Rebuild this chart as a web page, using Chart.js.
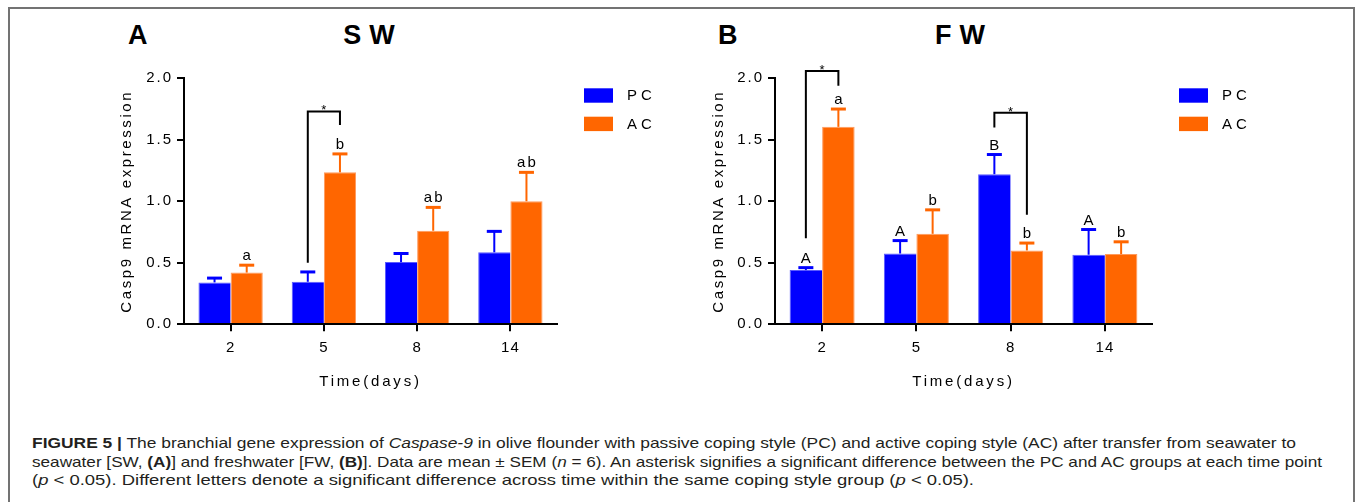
<!DOCTYPE html>
<html>
<head>
<meta charset="utf-8">
<script src="https://cdn.jsdelivr.net/npm/chart.js@4.4.1/dist/chart.umd.min.js"></script>
<style>
  html, body { margin: 0; padding: 0; background: #fff; }
  body { width: 1355px; height: 502px; position: relative; overflow: hidden;
         font-family: 'Liberation Sans', Arial, sans-serif; color: #000; }
  .frame { position: absolute; left: 8px; top: 7px; width: 1343px; height: 540px; border: 2px solid #737373; }
  canvas { position: absolute; top: 0; }
  .panel-letter { position: absolute; top: 22px; font-weight: bold; font-size: 27px; line-height: 27px; }
  .panel-title { position: absolute; top: 22px; width: 200px; text-align: center; font-weight: bold;
                 font-size: 27px; line-height: 27px; letter-spacing: 8px; }
  .caption { position: absolute; left: 32px; font-size: 15px; line-height: 18px; white-space: nowrap;
             transform-origin: 0 50%; color: #231f20; }
</style>
</head>
<body>
<div class="frame"></div>

<div class="panel-letter" style="left:128px">A</div>
<div class="panel-title" style="left:273px">SW</div>
<div class="panel-letter" style="left:718px">B</div>
<div class="panel-title" style="left:864px">FW</div>

<canvas id="swChart" width="560" height="400" style="left:100px"></canvas>
<canvas id="fwChart" width="560" height="400" style="left:690px"></canvas>

<div class="caption" style="top:434px" data-w="1264"><b>FIGURE 5 |</b> The branchial gene expression of <i>Caspase-9</i> in olive flounder with passive coping style (PC) and active coping style (AC) after transfer from seawater to</div>
<div class="caption" style="top:452.5px" data-w="1290">seawater [SW, <b>(A)</b>] and freshwater [FW, <b>(B)</b>]. Data are mean ± SEM (<i>n</i> = 6). An asterisk signifies a significant difference between the PC and AC groups at each time point</div>
<div class="caption" style="top:471px" data-w="942">(<i>p</i> &lt; 0.05). Different letters denote a significant difference across time within the same coping style group (<i>p</i> &lt; 0.05).</div>

<script>
// sampling days and y axis ticks
const days = ['2', '5', '8', '14'];
const yTickValues = [0, 0.5, 1.0, 1.5, 2.0];

// seawater (SW): means, SEM and letter groups
const swPC = [0.34, 0.345, 0.505, 0.585];
const swPCsem = [0.035, 0.08, 0.07, 0.17];
const swPCletters = ['', '', '', ''];
const swAC = [0.42, 1.235, 0.76, 1.0];
const swACsem = [0.06, 0.15, 0.19, 0.235];
const swACletters = ['a', 'b', 'ab', 'ab'];
const swBrackets = [{ day: '5', pcEnd: 0.5, top: 1.73, acEnd: 1.62 }];

// freshwater (FW)
const fwPC = [0.44, 0.575, 1.22, 0.565];
const fwPCsem = [0.02, 0.105, 0.16, 0.205];
const fwPCletters = ['A', 'A', 'B', 'A'];
const fwAC = [1.605, 0.735, 0.60, 0.57];
const fwACsem = [0.145, 0.195, 0.06, 0.1];
const fwACletters = ['a', 'b', 'b', 'b'];
const fwBrackets = [
  { day: '2', pcEnd: 0.7, top: 2.06, acEnd: 1.94 },
  { day: '8', pcEnd: 1.6, top: 1.72, acEnd: 0.89 }
];

const BLUE = '#0000ff';
const ORANGE = '#ff6600';
const FONT = "'Liberation Sans', Arial, sans-serif";

Chart.defaults.font.family = FONT;
Chart.defaults.color = '#000';

// letter spacing for axis text (Prism-style spaced labels)
const spacing = { x: { ticks: '1px', title: '2.8px' }, y: { ticks: '2px', title: '2.6px' } };

const spacedText = {
  id: 'spacedText',
  beforeDraw(chart) {
    ['x', 'y'].forEach(id => {
      const s = chart.scales[id];
      if (s._spaced) return;
      const drawLabels = s.drawLabels, drawTitle = s.drawTitle;
      s.drawLabels = function (area) {
        const prev = this.ctx.letterSpacing;
        this.ctx.letterSpacing = spacing[id].ticks;
        drawLabels.call(this, area);
        this.ctx.letterSpacing = prev;
      };
      s.drawTitle = function () {
        const prev = this.ctx.letterSpacing;
        this.ctx.letterSpacing = spacing[id].title;
        drawTitle.call(this);
        this.ctx.letterSpacing = prev;
      };
      s._spaced = true;
    });
  }
};

// error bars, group letters, significance brackets and the legend
function marks(brackets) {
  return {
    id: 'marks',
    afterDatasetsDraw(chart) {
      const ctx = chart.ctx, y = chart.scales.y;
      ctx.save();
      chart.data.datasets.forEach((ds, i) => {
        chart.getDatasetMeta(i).data.forEach((bar, j) => {
          const top = y.getPixelForValue(ds.data[j]);
          const cap = y.getPixelForValue(ds.data[j] + ds.sem[j]);
          ctx.strokeStyle = ds.backgroundColor;
          ctx.lineWidth = 2;
          ctx.beginPath();
          ctx.moveTo(bar.x, top);
          ctx.lineTo(bar.x, cap);
          ctx.stroke();
          ctx.lineWidth = 3;
          ctx.beginPath();
          ctx.moveTo(bar.x - 7.5, cap);
          ctx.lineTo(bar.x + 7.5, cap);
          ctx.stroke();
          if (ds.letters[j]) {
            ctx.fillStyle = '#000';
            ctx.font = '15px ' + FONT;
            ctx.letterSpacing = '2px';
            ctx.textAlign = 'center';
            ctx.textBaseline = 'alphabetic';
            ctx.fillText(ds.letters[j], bar.x + 1, cap - 5);
          }
        });
      });
      brackets.forEach(b => {
        const k = chart.data.labels.indexOf(b.day);
        const xl = chart.getDatasetMeta(0).data[k].x;
        const xr = chart.getDatasetMeta(1).data[k].x;
        const yt = y.getPixelForValue(b.top);
        ctx.strokeStyle = '#000';
        ctx.lineWidth = 2;
        ctx.beginPath();
        ctx.moveTo(xl, y.getPixelForValue(b.pcEnd));
        ctx.lineTo(xl, yt);
        ctx.lineTo(xr, yt);
        ctx.lineTo(xr, y.getPixelForValue(b.acEnd));
        ctx.stroke();
        ctx.fillStyle = '#000';
        ctx.font = '13px ' + FONT;
        ctx.letterSpacing = '0px';
        ctx.textAlign = 'center';
        ctx.textBaseline = 'alphabetic';
        ctx.fillText('*', (xl + xr) / 2, yt + 3);
      });
      ctx.restore();
    },
    afterDraw(chart) {
      const ctx = chart.ctx, area = chart.chartArea;
      ctx.save();
      chart.data.datasets.forEach((ds, i) => {
        const x = area.right + 27, top = area.top + 10 + i * 28.4;
        ctx.fillStyle = ds.backgroundColor;
        ctx.fillRect(x, top, 29, 14.4);
        ctx.fillStyle = '#000';
        ctx.font = '15px ' + FONT;
        ctx.letterSpacing = '4px';
        ctx.textAlign = 'left';
        ctx.textBaseline = 'middle';
        ctx.fillText(ds.label, x + 43, top + 7.7);
      });
      ctx.restore();
    }
  };
}

function makePanel(id, pc, pcSem, pcLetters, ac, acSem, acLetters, brackets, box) {
  return new Chart(document.getElementById(id), {
    type: 'bar',
    data: {
      labels: days,
      datasets: [
        { label: 'PC', data: pc, sem: pcSem, letters: pcLetters, backgroundColor: BLUE,
          borderColor: '#5a5aff', borderWidth: { top: 1, left: 1, right: 0, bottom: 0 } },
        { label: 'AC', data: ac, sem: acSem, letters: acLetters, backgroundColor: ORANGE,
          borderColor: '#ff9a5c', borderWidth: { top: 1, left: 1, right: 1, bottom: 0 } }
      ]
    },
    options: {
      responsive: false,
      animation: false,
      devicePixelRatio: 1,
      layout: { padding: { left: 0, top: 78.3, right: box.padRight, bottom: 9.3 } },
      datasets: { bar: { categoryPercentage: 0.69, barPercentage: 1.0 } },
      plugins: { legend: { display: false }, tooltip: { enabled: false } },
      scales: {
        x: {
          grid: { offset: false, drawOnChartArea: false, color: '#000', lineWidth: 2, tickLength: 7 },
          border: { color: '#000', width: 2, z: 1 },
          ticks: { padding: 8, font: { size: 15 }, color: '#000' },
          title: { display: true, text: 'Time(days)', font: { size: 15 }, color: '#000', padding: 0 },
          afterFit: s => { s.height = 66.5; }
        },
        y: {
          min: 0,
          max: 2,
          grid: { drawOnChartArea: false, color: '#000', lineWidth: 2, tickLength: 7 },
          border: { color: '#000', width: 2, z: 1 },
          ticks: { padding: 4, font: { size: 15 }, color: '#000', callback: v => v.toFixed(1) },
          afterBuildTicks: s => { s.ticks = yTickValues.map(v => ({ value: v })); },
          title: { display: true, text: 'Casp9 mRNA expression', font: { size: 15 }, color: '#000',
                   padding: { top: box.titlePad, bottom: 0 } },
          afterFit: s => { s.width = box.yWidth; }
        }
      }
    },
    plugins: [spacedText, marks(brackets)]
  });
}

makePanel('swChart', swPC, swPCsem, swPCletters, swAC, swACsem, swACletters, swBrackets,
  { yWidth: 84, padRight: 103, titlePad: 18 });
makePanel('fwChart', fwPC, fwPCsem, fwPCletters, fwAC, fwACsem, fwACletters, fwBrackets,
  { yWidth: 85, padRight: 98, titlePad: 19.8 });

// squeeze caption lines to the column width
document.querySelectorAll('.caption').forEach(el => {
  const w = el.getBoundingClientRect().width;
  el.style.transform = 'scaleX(' + (+el.dataset.w / w) + ')';
});
</script>
</body>
</html>
